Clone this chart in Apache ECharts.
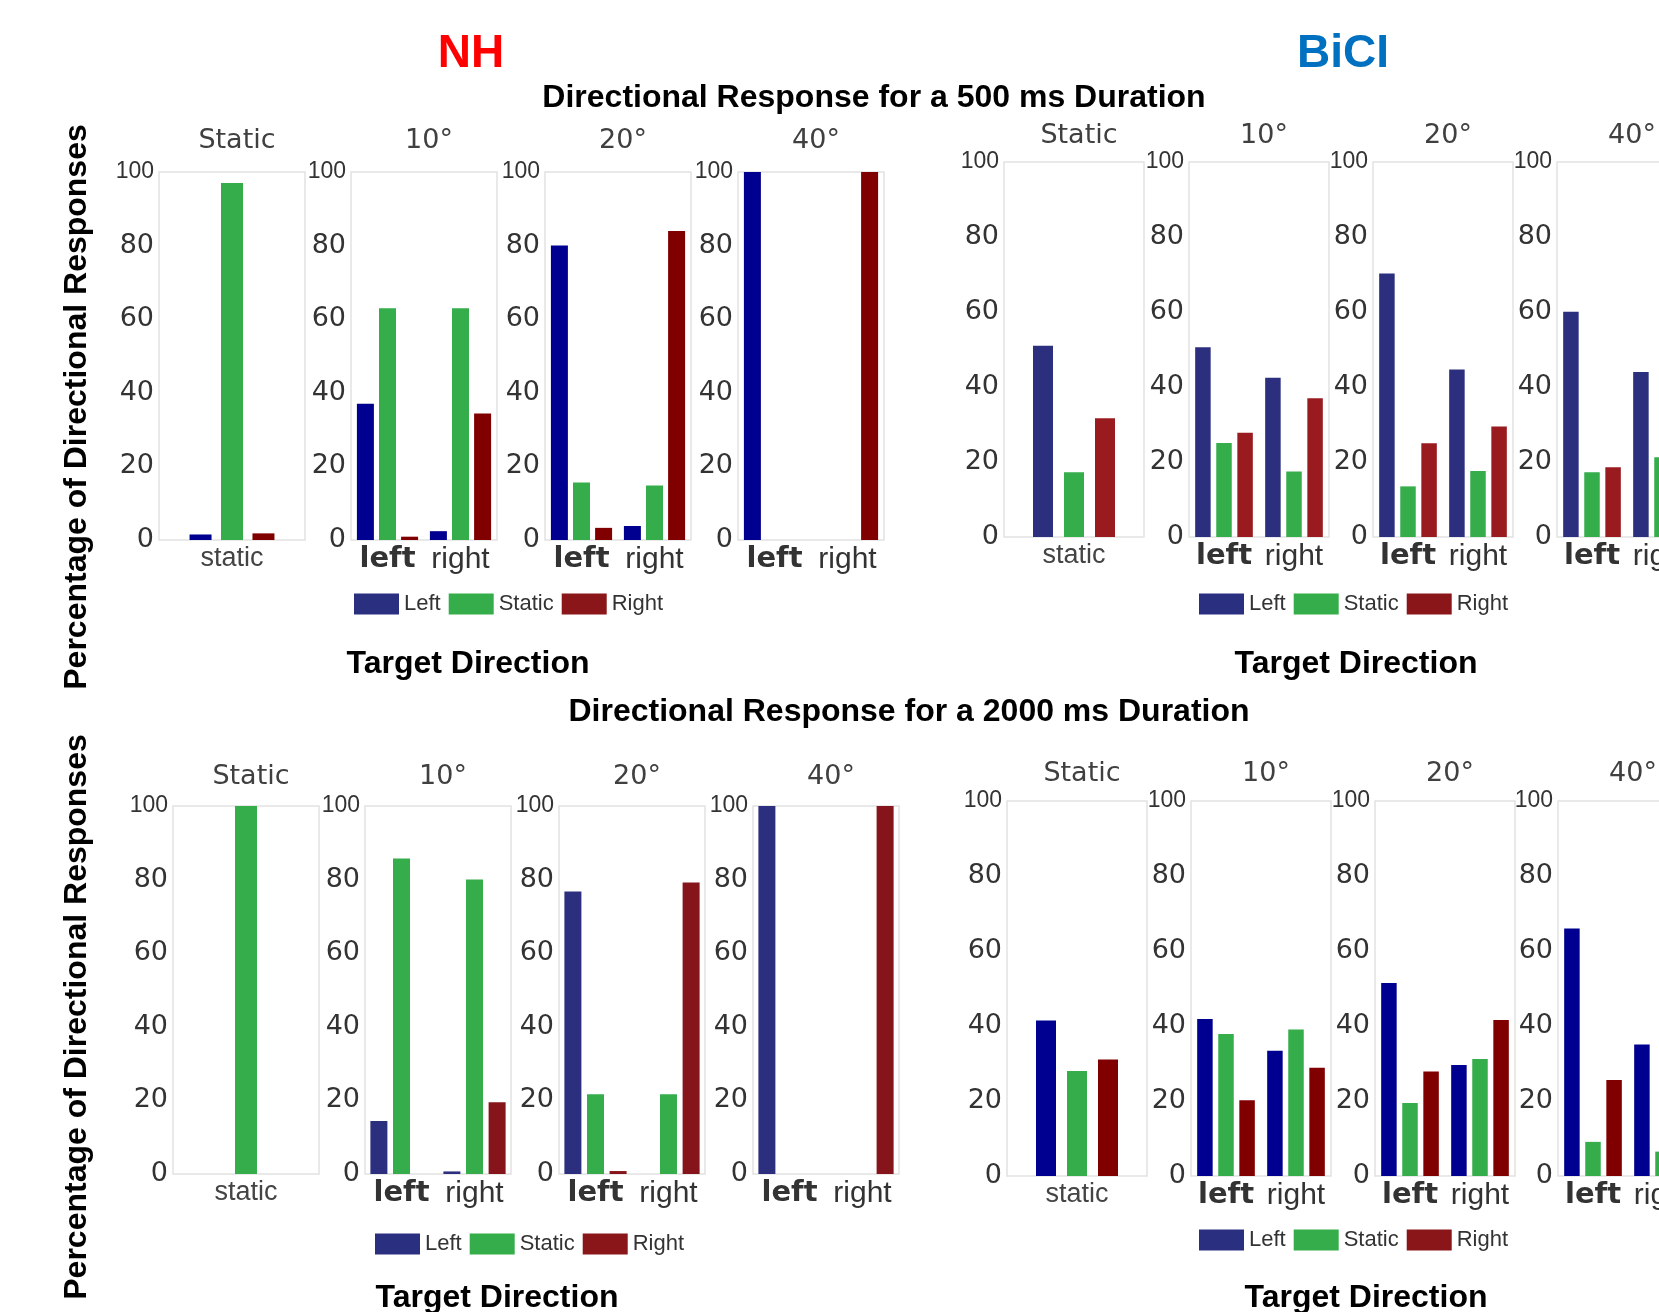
<!DOCTYPE html>
<html>
<head>
<meta charset="utf-8">
<script src="https://cdn.jsdelivr.net/npm/echarts@6/dist/echarts.min.js"></script>
<style>html,body{margin:0;padding:0;background:#fff;}#chart{width:1659px;height:1312px;}</style>
</head>
<body>
<div id="chart"></div>
<script>
// ---------- data ----------
const panelTitles = ['Static', '10°', '20°', '40°'];
const staticCategories = ['static'];
const directionCategories = ['left', 'right'];
const seriesNames = ['Left', 'Static', 'Right'];
const yTicks = [0, 20, 40, 60, 80, 100];

// NH, 500 ms  (one inner array per panel: Static, 10°, 20°, 40°)
const nh500Left   = [[1.5], [37, 2.4], [80, 3.8], [100, 0]];
const nh500Static = [[97], [63, 63], [15.6, 14.8], [0, 0]];
const nh500Right  = [[1.8], [0.9, 34.4], [3.3, 84], [0, 100]];

// BiCI, 500 ms
const bici500Left   = [[51], [50.6, 42.5], [70.3, 44.7], [60.1, 44]];
const bici500Static = [[17.3], [25.1, 17.5], [13.5, 17.6], [17.3, 21.3]];
const bici500Right  = [[31.7], [27.8, 37], [25, 29.5], [18.6, 30]];

// NH, 2000 ms
const nh2000Left   = [[0], [14.4, 0.7], [76.8, 0], [100, 0]];
const nh2000Static = [[100], [85.7, 80], [21.7, 21.7], [0, 0]];
const nh2000Right  = [[0], [0, 19.5], [0.8, 79.2], [0, 100]];

// BiCI, 2000 ms
const bici2000Left   = [[41.5], [41.9, 33.4], [51.5, 29.6], [66, 35.1]];
const bici2000Static = [[28], [37.9, 39.1], [19.5, 31.2], [9.1, 6.5]];
const bici2000Right  = [[31.1], [20.2, 28.9], [27.9, 41.6], [25.6, 25]];

// ---------- layout / style ----------
const blocks = [
  { L: nh500Left, S: nh500Static, R: nh500Right,
    lefts: [159, 351, 545, 738], width: 146, top: 172, height: 368, titleY: 141,
    colors: ['#000090', '#35ad4b', '#800000'],
    barStatic: 22, gapStatic: '43%', barDir: 17, gapDir: '30%',
    legend: { left: 354, top: 593 } },
  { L: bici500Left, S: bici500Static, R: bici500Right,
    lefts: [1004, 1189, 1373, 1557], width: 140, top: 162, height: 375, titleY: 136,
    colors: ['#2b2f7e', '#35ad4b', '#9a1b1f'],
    barStatic: 20, gapStatic: '55%', barDir: 15.5, gapDir: '36%',
    legend: { left: 1199, top: 593 } },
  { L: nh2000Left, S: nh2000Static, R: nh2000Right,
    lefts: [173, 365, 559, 753], width: 146, top: 806, height: 368, titleY: 777,
    colors: ['#2b2f7e', '#35ad4b', '#85151a'],
    barStatic: 22, gapStatic: '43%', barDir: 17, gapDir: '33%',
    legend: { left: 375, top: 1233 } },
  { L: bici2000Left, S: bici2000Static, R: bici2000Right,
    lefts: [1007, 1191, 1375, 1558], width: 140, top: 801, height: 375, titleY: 774,
    colors: ['#000090', '#35ad4b', '#800000'],
    barStatic: 20, gapStatic: '55%', barDir: 15.5, gapDir: '36%',
    legend: { left: 1199, top: 1229 } }
];

const grids = [], xAxes = [], yAxes = [], series = [], legends = [], graphics = [];
let idx = 0;
blocks.forEach(b => {
  for (let p = 0; p < 4; p++) {
    const cats = p === 0 ? staticCategories : directionCategories;
    grids.push({ left: b.lefts[p], top: b.top, width: b.width, height: b.height,
      outerBoundsMode: 'none', containLabel: false,
      show: true, borderColor: '#e2e2e2', borderWidth: 1.5, backgroundColor: 'transparent' });
    xAxes.push({ type: 'category', gridIndex: idx, data: cats,
      axisLine: { show: false }, axisTick: { show: false },
      axisLabel: { interval: 0, margin: 5, hideOverlap: false,
        formatter: v => v === 'left' ? '{l|left}' : (v === 'right' ? '{r|right}' : '{s|static}'),
        rich: {
          l: { fontFamily: 'DejaVu Sans', fontWeight: 'bold', fontSize: 29, color: '#333' },
          r: { fontFamily: 'Liberation Sans', fontSize: 30, color: '#333' },
          s: { fontFamily: 'Liberation Sans', fontSize: 27, color: '#444' }
        } } });
    yAxes.push({ type: 'value', gridIndex: idx, min: yTicks[0], max: yTicks[yTicks.length - 1], interval: 20,
      splitLine: { show: false }, axisLine: { show: false }, axisTick: { show: false },
      axisLabel: { margin: 5,
        formatter: v => v === 100 ? '{n|100}' : '{d|' + v + '}',
        rich: {
          n: { fontFamily: 'Liberation Sans', fontSize: 23, color: '#333' },
          d: { fontFamily: 'DejaVu Sans', fontSize: 27, color: '#333' }
        } } });
    const vals = [b.L[p], b.S[p], b.R[p]];
    for (let s = 0; s < 3; s++) {
      series.push({ type: 'bar', name: seriesNames[s], xAxisIndex: idx, yAxisIndex: idx,
        data: vals[s], barWidth: p === 0 ? b.barStatic : b.barDir,
        barGap: p === 0 ? b.gapStatic : b.gapDir,
        itemStyle: { color: b.colors[s] }, animation: false });
    }
    graphics.push({ type: 'text', x: b.lefts[p] + b.width / 2 + 5, y: b.titleY,
      style: { text: panelTitles[p], font: '27px "DejaVu Sans"', fill: '#404040',
        align: 'center', verticalAlign: 'middle', textAlign: 'center', textVerticalAlign: 'middle' } });
    idx++;
  }
  legends.push({ left: b.legend.left, top: b.legend.top, padding: 0, itemWidth: 45, itemHeight: 21, itemGap: 8,
    icon: 'rect', selectedMode: false,
    data: [
      { name: 'Left', itemStyle: { color: '#2a2f80' } },
      { name: 'Static', itemStyle: { color: '#35ad4b' } },
      { name: 'Right', itemStyle: { color: '#8a1619' } }
    ],
    textStyle: { fontFamily: 'Liberation Sans', fontSize: 22, color: '#333' } });
});

function txt(t, x, y, font, fill, rot) {
  return { type: 'text', x: x, y: y, rotation: rot || 0,
    style: { text: t, font: font, fill: fill, align: 'center', verticalAlign: 'middle',
      textAlign: 'center', textVerticalAlign: 'middle' } };
}
graphics.push(txt('NH', 471, 54, 'bold 46px "Liberation Sans"', '#ff0000'));
graphics.push(txt('BiCI', 1343, 54, 'bold 46px "Liberation Sans"', '#0070c0'));
graphics.push(txt('Directional Response for a 500 ms Duration', 874, 98, 'bold 32px "Liberation Sans"', '#000'));
graphics.push(txt('Directional Response for a 2000 ms Duration', 909, 712, 'bold 32px "Liberation Sans"', '#000'));
graphics.push(txt('Target Direction', 468, 664, 'bold 32px "Liberation Sans"', '#000'));
graphics.push(txt('Target Direction', 1356, 664, 'bold 32px "Liberation Sans"', '#000'));
graphics.push(txt('Target Direction', 497, 1298, 'bold 32px "Liberation Sans"', '#000'));
graphics.push(txt('Target Direction', 1366, 1298, 'bold 32px "Liberation Sans"', '#000'));
graphics.push(txt('Percentage of Directional Responses', 77, 407, 'bold 32px "Liberation Sans"', '#000', Math.PI / 2));
graphics.push(txt('Percentage of Directional Responses', 77, 1017, 'bold 32px "Liberation Sans"', '#000', Math.PI / 2));

const chart = echarts.init(document.getElementById('chart'), null, { renderer: 'canvas' });
chart.setOption({
  animation: false,
  backgroundColor: '#ffffff',
  grid: grids, xAxis: xAxes, yAxis: yAxes, series: series,
  legend: legends,
  graphic: graphics
});
</script>
</body>
</html>
